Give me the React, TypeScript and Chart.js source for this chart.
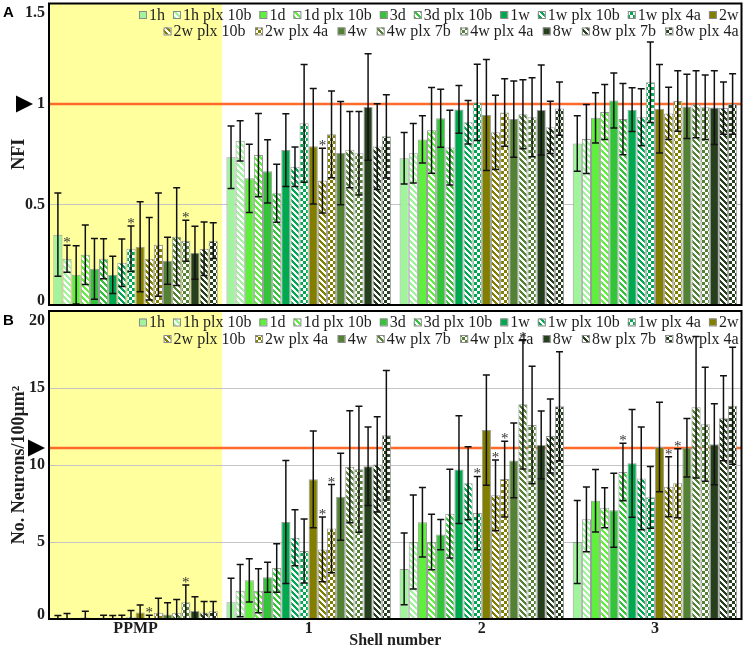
import React, { useEffect, useRef } from 'react';
import { Chart, registerables } from 'chart.js';

Chart.register(...registerables);

// ---------------- data ----------------
const categories = ['PPMP', '1', '2', '3'];
const seriesLabels = [
  '1h', '1h plx 10b', '1d', '1d plx 10b', '3d', '3d plx 10b',
  '1w', '1w plx 10b', '1w plx 4a', '2w', '2w plx 10b', '2w plx 4a',
  '4w', '4w plx 7b', '4w plx 4a', '8w', '8w plx 7b', '8w plx 4a',
];

// NFI (panel A), one array per shell, values in series order
const nfiPPMP = [0.35, 0.23, 0.15, 0.25, 0.18, 0.23, 0.15, 0.21, 0.28, 0.29, 0.23, 0.30, 0.22, 0.34, 0.32, 0.26, 0.28, 0.32];
const nfiShell1 = [0.735, 0.817, 0.63, 0.746, 0.665, 0.556, 0.771, 0.688, 0.904, 0.79, 0.619, 0.849, 0.756, 0.773, 0.755, 0.985, 0.788, 0.839];
const nfiShell2 = [0.73, 0.755, 0.824, 0.869, 0.929, 0.783, 0.973, 0.909, 1.008, 0.945, 0.859, 0.958, 0.925, 0.949, 0.934, 0.97, 0.884, 0.977];
const nfiShell3 = [0.803, 0.826, 0.931, 0.96, 1.017, 0.925, 0.972, 0.934, 1.108, 0.976, 0.953, 1.015, 0.988, 0.999, 0.984, 0.982, 0.98, 1.0];

const nfiErrPPMP = [0.207, 0.067, 0.145, 0.148, 0.151, 0.10, 0.093, 0.118, 0.113, 0.224, 0.205, 0.257, 0.117, 0.243, 0.102, 0.132, 0.133, 0.089];
const nfiErrShell1 = [0.155, 0.10, 0.17, 0.207, 0.157, 0.144, 0.181, 0.098, 0.293, 0.287, 0.161, 0.216, 0.257, 0.19, 0.208, 0.265, 0.213, 0.207];
const nfiErrShell2 = [0.128, 0.148, 0.117, 0.213, 0.144, 0.186, 0.119, 0.108, 0.19, 0.276, 0.185, 0.168, 0.19, 0.172, 0.197, 0.224, 0.13, 0.133];
const nfiErrShell3 = [0.138, 0.172, 0.125, 0.137, 0.137, 0.177, 0.109, 0.142, 0.2, 0.22, 0.13, 0.15, 0.16, 0.167, 0.16, 0.184, 0.13, 0.15];

// No. Neurons/100µm² (panel B)
const neuPPMP = [0.03, 0.05, 0, 0.1, 0, 0.03, 0.03, 0.05, 0.15, 0.43, 0.05, 0.41, 0.3, 0.41, 1.08, 0.52, 0.43, 0.5];
const neuShell1 = [1.08, 1.84, 2.51, 1.84, 2.71, 3.31, 6.3, 5.28, 4.42, 9.07, 4.52, 5.87, 7.94, 9.89, 9.72, 9.92, 10.04, 11.93];
const neuShell2 = [3.25, 5.0, 6.28, 5.0, 5.48, 6.84, 9.7, 8.81, 6.88, 12.27, 8.03, 9.09, 10.3, 13.94, 12.6, 11.3, 11.88, 13.81];
const neuShell3 = [5.0, 6.47, 7.68, 7.23, 7.06, 9.55, 10.11, 9.13, 7.9, 11.17, 8.59, 8.81, 11.12, 13.75, 12.64, 11.34, 13.03, 13.85];

const neuErrPPMP = [0.2, 0.3, 0, 0.4, 0, 0.22, 0.2, 0.2, 0.4, 0.48, 0.2, 0.93, 0.76, 0.85, 1.12, 0.93, 0.7, 0.63];
const neuErrShell1 = [1.56, 1.7, 1.4, 1.43, 0.97, 1.58, 4.0, 1.82, 2.08, 3.14, 2.1, 2.86, 2.83, 3.64, 4.09, 2.55, 3.1, 4.2];
const neuErrShell2 = [2.33, 3.06, 2.26, 1.8, 0.98, 2.88, 3.5, 2.37, 2.38, 3.58, 2.3, 2.46, 2.42, 4.2, 3.82, 2.2, 2.4, 3.55];
const neuErrShell3 = [2.7, 2.1, 2.03, 1.3, 2.4, 1.87, 3.5, 3.33, 2.0, 2.9, 1.95, 2.24, 1.9, 4.6, 3.7, 2.63, 2.76, 3.8];

const nfiTicks = [0, 0.5, 1, 1.5];
const neuTicks = [0, 5, 10, 15, 20];
const nfiReference = 1;
const neuReference = 11.1;

// significance markers: [shell, series]
const sigNFI = [['PPMP', '1h plx 10b'], ['PPMP', '1w plx 4a'], ['PPMP', '4w plx 4a'], ['1', '2w plx 10b']];
const sigNeurons = [
  ['PPMP', '2w plx 10b'], ['PPMP', '4w plx 4a'],
  ['1', '2w plx 10b'], ['1', '2w plx 4a'],
  ['2', '1w plx 4a'], ['2', '2w plx 10b'], ['2', '2w plx 4a'], ['2', '4w plx 7b'],
  ['3', '3d plx 10b'], ['3', '2w plx 10b'], ['3', '2w plx 4a'],
];

// ---------------- styles ----------------
const seriesColors = [
  '#a0f59c', '#a0f59c', '#5ef03c', '#5ef03c', '#33c43a', '#33c43a',
  '#00a94f', '#00a94f', '#00a94f', '#827f00', '#827f00', '#827f00',
  '#548235', '#548235', '#548235', '#263f1c', '#263f1c', '#263f1c',
];
const fillKinds = [
  'solid', 'hatch', 'solid', 'hatch', 'solid', 'hatch',
  'solid', 'hatch', 'check', 'solid', 'hatch', 'check',
  'solid', 'hatch', 'check', 'solid', 'hatch', 'check',
];
const legendRowCounts = [10, 8];
const SERIF = '"Liberation Serif", "Times New Roman", serif';
const TEXT = '#1e1e1e';

function makeFill(color: string, kind: string): any {
  if (kind === 'solid') return color;
  const c = document.createElement('canvas');
  c.width = 6;
  c.height = 6;
  const g = c.getContext('2d')!;
  g.fillStyle = '#ffffff';
  g.fillRect(0, 0, 6, 6);
  g.fillStyle = color;
  for (let y = 0; y < 6; y++) {
    for (let x = 0; x < 6; x++) {
      const on = kind === 'hatch'
        ? (((x - y) % 6) + 6) % 6 < 3
        : (Math.floor(x / 3) + Math.floor(y / 3)) % 2 === 0;
      if (on) g.fillRect(x, y, 1, 1);
    }
  }
  return g.createPattern(c, 'repeat');
}

interface Panel {
  means: number[][];
  errs: number[][];
  ticks: number[];
  title: string;
  ref: number;
  sig: string[][];
  letter: string;
  showX: boolean;
  padTop: number;
  padBottom: number;
  triX: number;
}

function buildChart(canvas: HTMLCanvasElement, p: Panel) {
  const fills = seriesColors.map((c, i) => makeFill(c, fillKinds[i]));
  const datasets = seriesLabels.map((label, s) => ({
    label,
    data: p.means.map((row) => row[s]),
    backgroundColor: fills[s],
    borderColor: '#9c9c9c',
    borderWidth: 1,
    categoryPercentage: 0.95,
    barPercentage: 1,
  }));
  const min = p.ticks[0];
  const max = p.ticks[p.ticks.length - 1];
  const step = p.ticks[1] - p.ticks[0];

  const decor = {
    id: 'decor' + p.letter,
    beforeDraw(chart: any) {
      const { ctx, chartArea: a } = chart;
      ctx.save();
      ctx.fillStyle = '#ffff9e';
      const w = (a.right - a.left) / categories.length;
      ctx.fillRect(a.left, a.top, w, a.bottom - a.top);
      ctx.restore();
    },
    beforeDatasetsDraw(chart: any) {
      const { ctx, chartArea: a } = chart;
      const y = chart.scales.y.getPixelForValue(p.ref);
      ctx.save();
      ctx.strokeStyle = '#ff6a28';
      ctx.lineWidth = 2.5;
      ctx.beginPath();
      ctx.moveTo(a.left, y);
      ctx.lineTo(a.right, y);
      ctx.stroke();
      ctx.restore();
    },
    afterDatasetsDraw(chart: any) {
      const { ctx, chartArea: a } = chart;
      const ys = chart.scales.y;
      // legend
      ctx.save();
      ctx.font = `16px ${SERIF}`;
      ctx.textBaseline = 'middle';
      ctx.textAlign = 'left';
      let start = 0;
      legendRowCounts.forEach((count, r) => {
        const row = seriesLabels.slice(start, start + count);
        const idx0 = start;
        start += count;
        const gap = r === 0 ? 8 : 9.5;
        const widths = row.map((l) => 10 + ctx.measureText(l).width);
        const total = widths.reduce((s, v) => s + v, 0) + gap * (row.length - 1);
        let x = a.right - 3 - total;
        const y = a.top + (r === 0 ? 11 : 27.5);
        row.forEach((l, k) => {
          const si = idx0 + k;
          ctx.fillStyle = '#ffffff';
          ctx.fillRect(x, y - 3.5, 7, 7);
          ctx.fillStyle = fills[si];
          ctx.fillRect(x, y - 3.5, 7, 7);
          ctx.strokeStyle = '#8a8a8a';
          ctx.lineWidth = 1;
          ctx.strokeRect(x + 0.5, y - 3.5 + 0.5, 7, 7);
          ctx.fillStyle = TEXT;
          ctx.fillText(l, x + 10, y + 1);
          x += widths[k] + gap;
        });
      });
      ctx.restore();

      // error bars
      ctx.save();
      ctx.beginPath();
      ctx.rect(a.left, a.top, a.right - a.left, a.bottom - a.top);
      ctx.clip();
      ctx.strokeStyle = '#111111';
      ctx.lineWidth = 1.5;
      seriesLabels.forEach((_, s) => {
        const meta = chart.getDatasetMeta(s);
        meta.data.forEach((bar: any, c: number) => {
          const e = p.errs[c][s];
          if (!e) return;
          const v = p.means[c][s];
          const x = bar.x;
          const yt = ys.getPixelForValue(v + e);
          const yb = ys.getPixelForValue(v - e);
          ctx.beginPath();
          ctx.moveTo(x, yt);
          ctx.lineTo(x, yb);
          ctx.moveTo(x - 3.5, yt);
          ctx.lineTo(x + 3.5, yt);
          ctx.moveTo(x - 3.5, yb);
          ctx.lineTo(x + 3.5, yb);
          ctx.stroke();
        });
      });
      ctx.restore();

      // significance asterisks
      ctx.save();
      ctx.font = `15px ${SERIF}`;
      ctx.textAlign = 'center';
      ctx.textBaseline = 'alphabetic';
      ctx.fillStyle = '#333333';
      p.sig.forEach(([cat, label]) => {
        const c = categories.indexOf(cat);
        const s = seriesLabels.indexOf(label);
        const bar = chart.getDatasetMeta(s).data[c];
        const yt = ys.getPixelForValue(p.means[c][s] + p.errs[c][s]);
        ctx.fillText('*', bar.x, yt + 2);
      });
      ctx.restore();
    },
    afterDraw(chart: any) {
      const { ctx, chartArea: a } = chart;
      const ys = chart.scales.y;
      ctx.save();
      ctx.strokeStyle = '#000000';
      ctx.lineWidth = 2;
      ctx.strokeRect(a.left, a.top, a.right - a.left, a.bottom - a.top);
      // end tick labels, kept inside the frame height
      ctx.font = `bold 16px ${SERIF}`;
      ctx.fillStyle = TEXT;
      ctx.textAlign = 'right';
      ctx.textBaseline = 'middle';
      ctx.fillText(String(min), a.left - 4, a.bottom - 4);
      ctx.fillText(String(max), a.left - 4, a.top + 9.5);
      // reference marker triangle
      const yr = ys.getPixelForValue(p.ref);
      ctx.fillStyle = '#000000';
      ctx.beginPath();
      ctx.moveTo(p.triX - 17, yr - 8.5);
      ctx.lineTo(p.triX - 17, yr + 8.5);
      ctx.lineTo(p.triX, yr);
      ctx.closePath();
      ctx.fill();
      // panel letter
      ctx.font = 'bold 15px "Liberation Sans", Arial, sans-serif';
      ctx.textAlign = 'left';
      ctx.textBaseline = 'middle';
      ctx.fillText(p.letter, 3, a.top + 9.5);
      ctx.restore();
    },
  };

  return new Chart(canvas, {
    type: 'bar',
    data: { labels: categories, datasets },
    options: {
      responsive: false,
      maintainAspectRatio: false,
      animation: false,
      devicePixelRatio: 1,
      layout: { padding: { left: 0, right: 4.5, top: p.padTop, bottom: p.padBottom } },
      plugins: { legend: { display: false }, tooltip: { enabled: false } },
      scales: {
        x: {
          type: 'category',
          offset: true,
          display: p.showX,
          grid: { display: false, drawTicks: false },
          border: { display: false },
          ticks: {
            font: { family: SERIF, size: 16, weight: 'bold' },
            color: TEXT,
            padding: 0,
            maxRotation: 0,
            autoSkip: false,
          },
          title: {
            display: p.showX,
            text: 'Shell number',
            font: { family: SERIF, size: 16, weight: 'bold', lineHeight: 1 },
            color: TEXT,
            padding: 0,
          },
          afterFit: (s: any) => {
            s.height = p.showX ? 30 : 0;
            s.paddingLeft = 0;
            s.paddingRight = 0;
            s.paddingTop = 0;
            s.paddingBottom = 0;
          },
        },
        y: {
          min,
          max,
          ticks: {
            stepSize: step,
            font: { family: SERIF, size: 16, weight: 'bold' },
            color: TEXT,
            padding: 4,
            callback: (v: any, i: number, arr: any[]) => (i === 0 || i === arr.length - 1 ? '' : String(v)),
          },
          grid: {
            drawTicks: false,
            lineWidth: 1,
            color: (c: any) => (c.tick && c.tick.value > min && c.tick.value < max ? '#c4c4c4' : 'rgba(0,0,0,0)'),
          },
          border: { display: false },
          title: {
            display: true,
            text: p.title,
            font: { family: SERIF, size: 18, weight: 'bold' },
            color: TEXT,
            padding: { top: 9, bottom: 0 },
          },
          afterFit: (s: any) => {
            s.width = 49;
            s.paddingTop = 0;
            s.paddingBottom = 0;
            s.paddingLeft = 0;
            s.paddingRight = 0;
          },
        },
      },
    } as any,
    plugins: [decor],
  });
}

export default function App() {
  const refA = useRef<HTMLCanvasElement>(null);
  const refB = useRef<HTMLCanvasElement>(null);

  useEffect(() => {
    const chartA = buildChart(refA.current!, {
      means: [nfiPPMP, nfiShell1, nfiShell2, nfiShell3],
      errs: [nfiErrPPMP, nfiErrShell1, nfiErrShell2, nfiErrShell3],
      ticks: nfiTicks,
      title: 'NFI',
      ref: nfiReference,
      sig: sigNFI,
      letter: 'A',
      showX: false,
      padTop: 3.5,
      padBottom: 2,
      triX: 33,
    });
    const chartB = buildChart(refB.current!, {
      means: [neuPPMP, neuShell1, neuShell2, neuShell3],
      errs: [neuErrPPMP, neuErrShell1, neuErrShell2, neuErrShell3],
      ticks: neuTicks,
      title: 'No. Neurons/100µm²',
      ref: neuReference,
      sig: sigNeurons,
      letter: 'B',
      showX: true,
      padTop: 4,
      padBottom: 0,
      triX: 45,
    });
    return () => {
      chartA.destroy();
      chartB.destroy();
    };
  }, []);

  return (
    <div style={{ position: 'absolute', left: 0, top: 0, width: 746, height: 649, background: '#ffffff' }}>
      <canvas ref={refA} width={746} height={307} style={{ position: 'absolute', left: 0, top: 0, width: 746, height: 307 }} />
      <canvas ref={refB} width={746} height={342} style={{ position: 'absolute', left: 0, top: 307, width: 746, height: 342 }} />
    </div>
  );
}
